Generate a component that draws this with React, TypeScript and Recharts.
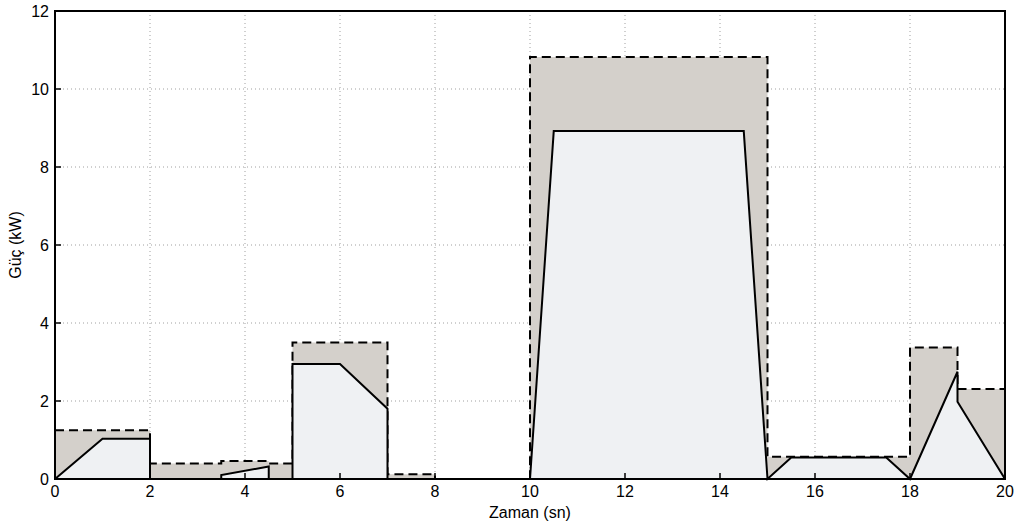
import React from 'react';
import {
  AreaChart,
  Area,
  XAxis,
  YAxis,
  CartesianGrid,
  ReferenceArea,
} from 'recharts';

// time points (s) and power (kW) for the total demand (dashed, grey)
const totalTime = [0, 2, 2, 3.5, 3.5, 4.5, 4.5, 5, 5, 7, 7, 8, 8, 10, 10, 15, 15, 18, 18, 19, 19, 20];
const totalPower = [1.25, 1.25, 0.4, 0.4, 0.46, 0.46, 0.4, 0.4, 3.5, 3.5, 0.12, 0.12, 0, 0, 10.82, 10.82, 0.57, 0.57, 3.37, 3.37, 2.31, 2.31];

// time points (s) and power (kW) for the solid line
const netTime = [0, 1, 2, 2, 3.5, 3.5, 4.5, 4.5, 5, 5, 6, 7, 7, 10, 10.5, 14.5, 15, 15.5, 17.5, 18, 19, 19, 20];
const netPower = [0, 1.03, 1.03, 0, 0, 0.1, 0.32, 0, 0, 2.95, 2.95, 1.8, 0, 0, 8.92, 8.92, 0, 0.55, 0.55, 0, 2.75, 1.98, 0];

const xTicks = [0, 2, 4, 6, 8, 10, 12, 14, 16, 18, 20];
const yTicks = [0, 2, 4, 6, 8, 10, 12];

const totalData = totalTime.map((t, i) => ({ t, p: totalPower[i] }));
const netData = netTime.map((t, i) => ({ t, p: netPower[i] }));

const FONT = '"Liberation Sans", Arial, sans-serif';
const X_MARGIN = 7;
const Y_MARGIN = 6;
const TICK_LEN = 6;

const XTick = (props: any) => {
  const { x, y, payload } = props;
  const axisY = y - X_MARGIN;
  return (
    <g>
      <line x1={x} x2={x} y1={axisY} y2={axisY - TICK_LEN} stroke="#000" strokeWidth={1.5} />
      <text x={x} y={y} dy="0.71em" textAnchor="middle" fontSize={16} fontFamily={FONT} fill="#000">
        {payload.value}
      </text>
    </g>
  );
};

const YTick = (props: any) => {
  const { x, y, payload } = props;
  const axisX = x + Y_MARGIN;
  return (
    <g>
      <line x1={axisX} x2={axisX + TICK_LEN} y1={y} y2={y} stroke="#000" strokeWidth={1.5} />
      <text x={x} y={y} dy="0.35em" textAnchor="end" fontSize={16} fontFamily={FONT} fill="#000">
        {payload.value}
      </text>
    </g>
  );
};

export default function App() {
  return (
    <div style={{ position: 'absolute', left: 0, top: 0, background: '#fff' }}>
      <AreaChart width={1019} height={526} margin={{ top: 11, right: 14, bottom: 27, left: 0 }}>
        <CartesianGrid stroke="#a0a0a0" strokeDasharray="1 3" />
        <XAxis
          dataKey="t"
          type="number"
          domain={[0, 20]}
          ticks={xTicks}
          allowDuplicatedCategory={false}
          height={20}
          tickSize={0}
          tickMargin={X_MARGIN}
          tick={<XTick />}
          axisLine={{ stroke: '#000', strokeWidth: 2 }}
          label={{ value: 'Zaman (sn)', position: 'bottom', offset: 8, fontSize: 16, fontFamily: FONT, fill: '#000' }}
        />
        <YAxis
          type="number"
          domain={[0, 12]}
          ticks={yTicks}
          width={55}
          tickSize={0}
          tickMargin={Y_MARGIN}
          tick={<YTick />}
          axisLine={{ stroke: '#000', strokeWidth: 2 }}
          label={{
            value: 'Güç (kW)',
            angle: -90,
            position: 'insideLeft',
            offset: 15,
            fontSize: 16,
            fontFamily: FONT,
            fill: '#000',
            style: { textAnchor: 'middle' },
          }}
        />
        <Area
          data={totalData}
          dataKey="p"
          type="linear"
          stroke="#000"
          strokeWidth={2}
          strokeDasharray="9 5"
          fill="#d4d0cb"
          fillOpacity={1}
          isAnimationActive={false}
          dot={false}
          activeDot={false}
        />
        <Area
          data={netData}
          dataKey="p"
          type="linear"
          stroke="#000"
          strokeWidth={2}
          fill="#eff1f3"
          fillOpacity={1}
          isAnimationActive={false}
          dot={false}
          activeDot={false}
        />
        <ReferenceArea x1={0} x2={20} y1={0} y2={12} fill="none" stroke="#000" strokeWidth={2} />
      </AreaChart>
    </div>
  );
}
